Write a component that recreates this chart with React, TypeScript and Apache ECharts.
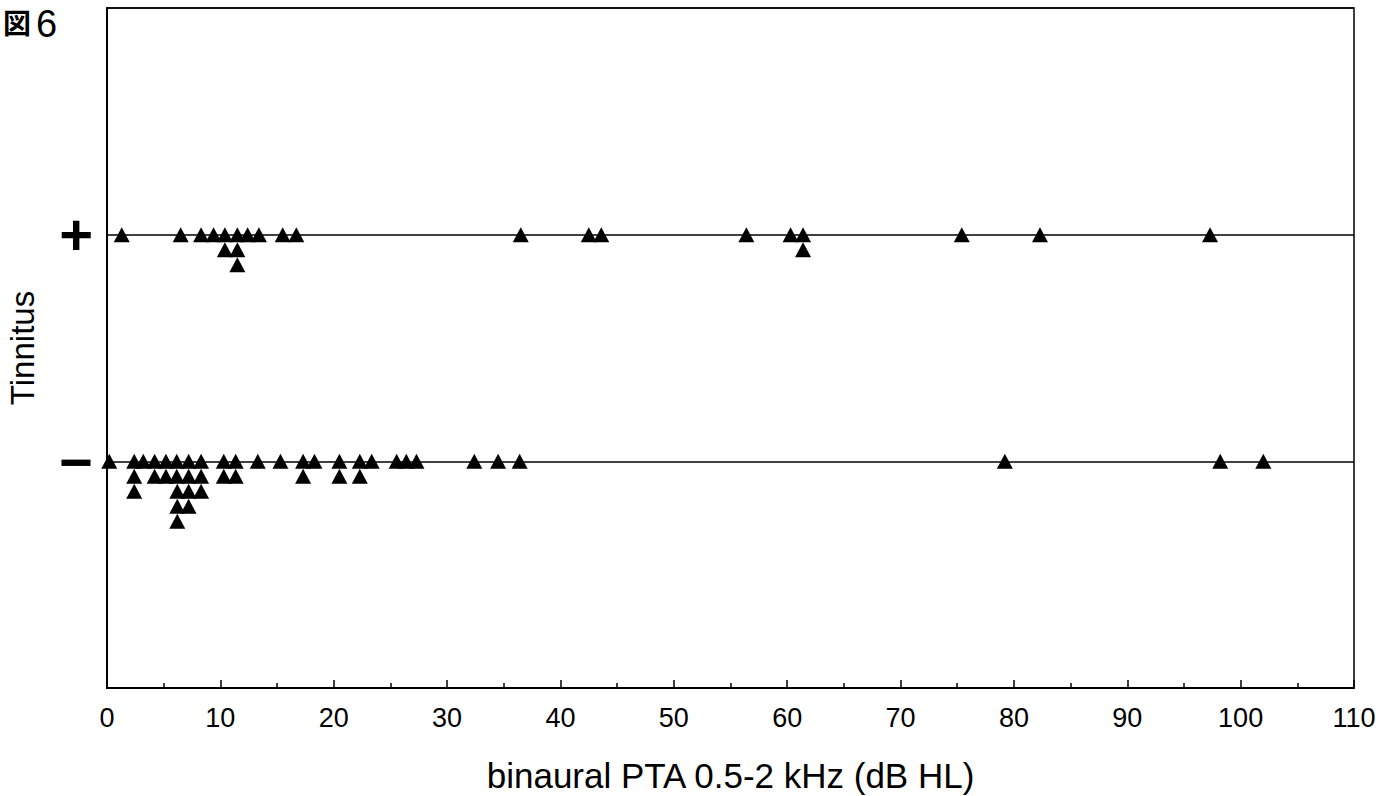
import React, { useEffect, useRef } from "react";
import * as echarts from "echarts";

// x values (binaural PTA, dB HL), grouped by stacking row
const plusRow1 = [1.3, 6.5, 8.3, 9.4, 10.4, 11.5, 12.4, 13.4, 15.5, 16.7, 36.5, 42.5, 43.6, 56.4, 60.3, 61.4, 75.4, 82.3, 97.3];
const plusRow2 = [10.4, 11.5, 61.4];
const plusRow3 = [11.5];

const minusRow1 = [0.2, 2.4, 3.2, 4.2, 5.2, 6.15, 7.2, 8.3, 10.3, 11.35, 13.3, 15.3, 17.3, 18.3, 20.5, 22.3, 23.35, 25.55, 26.4, 27.3, 32.4, 34.5, 36.4, 79.2, 98.2, 102];
const minusRow2 = [2.4, 4.2, 5.2, 6.15, 7.2, 8.3, 10.3, 11.35, 17.3, 20.5, 22.3];
const minusRow3 = [2.4, 6.2, 7.2, 8.3];
const minusRow4 = [6.2, 7.2];
const minusRow5 = [6.2];

const groupLabels = ["−", "+"]; // y = 0, y = 1
const xTicks = [0, 10, 20, 30, 40, 50, 60, 70, 80, 90, 100, 110];

const FONT = "'Liberation Sans', Arial, Helvetica, sans-serif";
const STACK_STEP = 15;

function buildData(rows: number[][], yVal: number) {
  const out: any[] = [];
  rows.forEach((row, r) => {
    row.forEach((x) => {
      out.push({ value: [x, yVal], symbolOffset: [0, r * STACK_STEP] });
    });
  });
  return out;
}

export default function App() {
  const ref = useRef<HTMLDivElement>(null);
  useEffect(() => {
    if (!ref.current) return;
    const chart = echarts.init(ref.current, null, { renderer: "svg" });
    const plusData = buildData([plusRow1, plusRow2, plusRow3], 1);
    const minusData = buildData([minusRow1, minusRow2, minusRow3, minusRow4, minusRow5], 0);
    chart.setOption({
      animation: false,
      backgroundColor: "#ffffff",
      textStyle: { fontFamily: FONT },
      grid: {
        left: 107,
        right: 30,
        top: 8,
        bottom: 108,
        show: true,
        borderColor: "#000",
        borderWidth: 1.5,
        containLabel: false,
        outerBoundsMode: "none",
      },
      graphic: [
        {
          type: "text",
          left: 3,
          top: 8,
          style: { text: "図", font: `bold 28px 'Noto Sans CJK JP', sans-serif`, fill: "#000" },
        },
        {
          type: "text",
          left: 36,
          top: 5,
          style: { text: "6", font: `38px ${FONT}`, fill: "#000" },
        },
      ],
      xAxis: {
        type: "value",
        min: xTicks[0],
        max: xTicks[xTicks.length - 1],
        interval: 10,
        name: "binaural PTA 0.5-2 kHz (dB HL)",
        nameLocation: "middle",
        nameGap: 70,
        nameTextStyle: { fontSize: 35, color: "#000", fontFamily: FONT },
        axisLine: { show: true, onZero: false, lineStyle: { color: "#000", width: 2 } },
        axisTick: { show: true, inside: true, length: 8, lineStyle: { color: "#000", width: 1.5 } },
        minorTick: { show: true, splitNumber: 2, length: 5, lineStyle: { color: "#000", width: 1.5 } },
        axisLabel: { fontSize: 27, color: "#000", margin: 16, fontFamily: FONT },
        splitLine: { show: false },
      },
      yAxis: {
        type: "value",
        min: -1,
        max: 2,
        interval: 1,
        name: "Tinnitus",
        nameLocation: "middle",
        nameRotate: 90,
        nameGap: 68,
        nameTextStyle: { fontSize: 33, color: "#000", fontFamily: FONT },
        axisLine: { show: true, onZero: false, lineStyle: { color: "#000", width: 2 } },
        axisTick: { show: false },
        axisLabel: {
          margin: 14,
          fontSize: 58,
          fontWeight: "bold",
          color: "#000",
          fontFamily: FONT,
          formatter: (v: number) => (v === 0 ? groupLabels[0] : v === 1 ? groupLabels[1] : ""),
        },
        splitLine: {
          show: true,
          lineStyle: { color: "#000", width: 1.5 },
        },
      },
      series: [
        {
          type: "scatter",
          symbol: "triangle",
          symbolSize: [16, 15],
          itemStyle: { color: "#000", opacity: 1 },
          data: plusData,
        },
        {
          type: "scatter",
          symbol: "triangle",
          symbolSize: [16, 15],
          itemStyle: { color: "#000", opacity: 1 },
          data: minusData,
        },
      ],
    });
    return () => chart.dispose();
  }, []);
  return (
    <div
      ref={ref}
      style={{ position: "fixed", left: 0, top: 0, width: 1384, height: 796, background: "#fff" }}
    />
  );
}
